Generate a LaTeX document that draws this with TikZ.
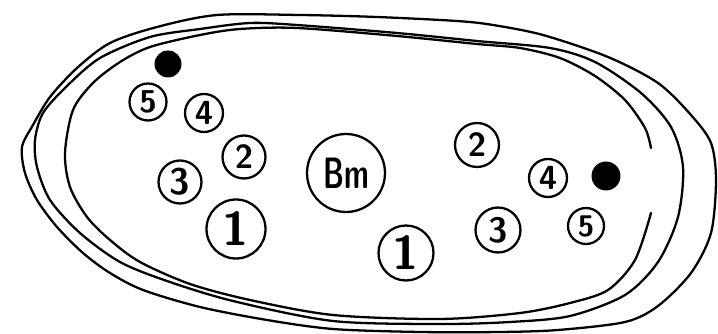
\documentclass[tikz,border=0pt]{standalone}
\usepackage{tikz}
\tikzset{
  rim/.style={line width=1.3pt,line join=round,line cap=round},
  hole/.style={circle,draw,line width=1.3pt,inner sep=0pt,minimum size=#1,
    font=\sffamily\bfseries},
  plughole/.style={circle,fill=black,inner sep=0pt,minimum size=#1}
}
\newcommand\holesize[1]{\fontsize{#1}{#1}\selectfont}

\begin{document}
\begin{tikzpicture}[x=0.02cm,y=-0.02cm]
\path[use as bounding box] (0,0) rectangle (718,334);
\draw[rim] plot[smooth cycle] coordinates {
  (22,147) (25,173) (37,200) (57,227) (83,253) (110,273) (143,290)
  (200,307) (267,320) (333,329) (420,332) (500,332) (558,330) (625,322)
  (658,306) (691,273) (711,233) (716,180) (711,143) (691,115) (658,83)
  (608,57) (543,35) (493,25) (457,21) (377,17) (300,15) (217,15)
  (157,27) (110,43) (77,68) (50,97) (33,125)};
\draw[rim] plot[smooth cycle] coordinates {
  (35,140) (37,167) (50,200) (80,233) (120,262) (167,281) (233,301)
  (333,321) (440,324) (510,322) (570,316) (625,295) (658,262) (678,217)
  (683,167) (671,127) (641,93) (595,62) (550,48) (477,41) (397,33)
  (297,25) (250,23) (200,29) (150,37) (100,58) (67,86) (43,113)};
\draw[rim] plot[smooth] coordinates {
  (651,148) (645,128) (625,100) (595,76) (560,58) (520,48) (477,44)
  (397,36) (297,28) (240,29) (200,35) (150,47) (120,62) (93,83)
  (73,110) (65,153) (70,187) (87,217) (110,240) (140,262) (190,284)
  (250,300) (333,315) (440,319) (520,313) (570,303) (608,290)
  (635,260) (651,213)};
\node[plughole=0.54cm] (sixL) at (168,64) {};
\node[hole=0.74cm] (fiveL) at (148,102) {\holesize{18}5};
\node[hole=0.76cm] (fourL) at (204,113) {\holesize{19}4};
\node[hole=0.86cm] (twoL) at (244,157) {\holesize{19}2};
\node[hole=0.86cm] (threeL) at (180,182) {\holesize{21}3};
\node[hole=1.18cm] (oneL) at (236,229) {\holesize{27}1};
\node[hole=1.56cm] (blower) at (346,173) {\holesize{25}\scalebox{0.65}[1]{Bm}};
\node[hole=0.88cm] (twoR) at (477,145) {\holesize{19}2};
\node[hole=0.76cm] (fourR) at (548,178) {\holesize{19}4};
\node[plughole=0.58cm] (sixR) at (606,176) {};
\node[hole=0.90cm] (threeR) at (498,230) {\holesize{20}3};
\node[hole=0.72cm] (fiveR) at (586,226) {\holesize{17}5};
\node[hole=1.10cm] (oneR) at (406,253) {\holesize{27}1};
\end{tikzpicture}
\end{document}
